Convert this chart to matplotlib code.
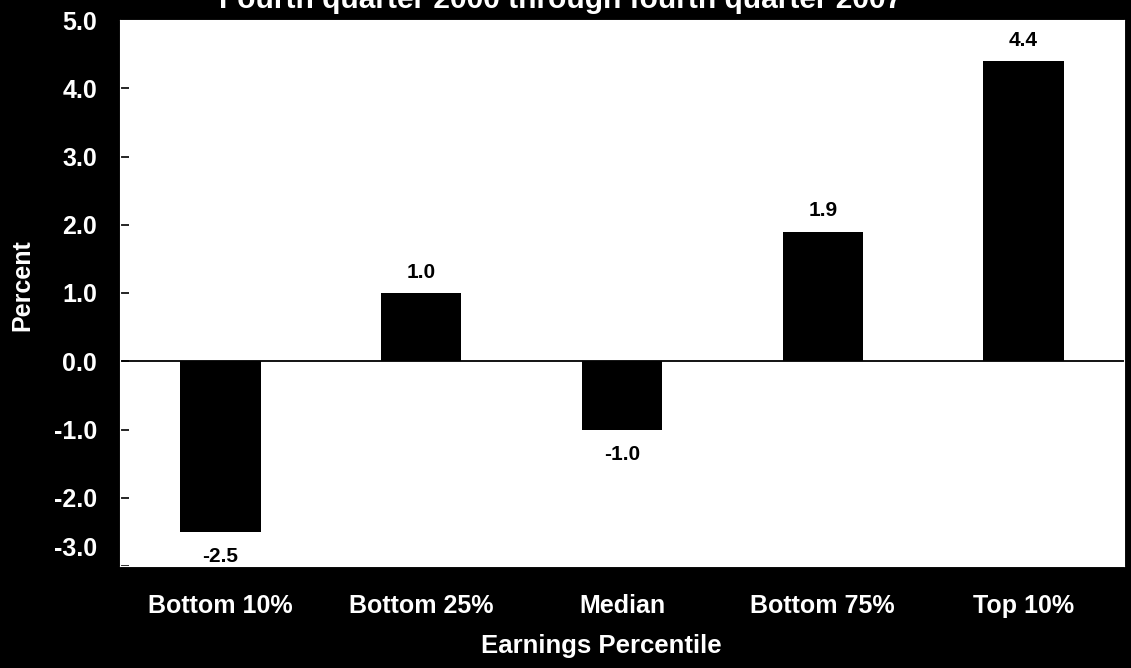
import matplotlib
matplotlib.use("Agg")
import matplotlib.pyplot as plt
import matplotlib.transforms as mtransforms

categories = ["Bottom 10%", "Bottom 25%", "Median", "Bottom 75%", "Top 10%"]
values = [-2.5, 1.0, -1.0, 1.9, 4.4]
yticks = [5.0, 4.0, 3.0, 2.0, 1.0, 0.0, -1.0, -2.0, -3.0]
title = "Fourth quarter 2000 through fourth quarter 2007"

plt.rcParams["font.family"] = ["Liberation Sans", "DejaVu Sans"]
plt.rcParams["font.weight"] = "bold"

W, H = 1131, 668
fig = plt.figure(figsize=(W / 100, H / 100), dpi=100, facecolor="black")
left, right, top, bottom = 120, 1124, 20, 566
ax = fig.add_axes([left / W, 1 - bottom / H, (right - left) / W, (bottom - top) / H])
ax.set_facecolor("white")

x = list(range(len(categories)))
ax.bar(x, values, width=0.40, color="black", zorder=2)
ax.axhline(0, color="black", linewidth=1.3, zorder=1)

for xi, v in zip(x, values):
    if v >= 0:
        ax.annotate(f"{v:.1f}", (xi, v), xytext=(0, 8), textcoords="offset points",
                    ha="center", va="bottom", fontsize=15, fontweight="bold", color="black")
    else:
        ax.annotate(f"{v:.1f}", (xi, v), xytext=(0, -11), textcoords="offset points",
                    ha="center", va="top", fontsize=15, fontweight="bold", color="black")

ax.set_xlim(-0.5, len(categories) - 0.5)
ax.set_ylim(-3.0, 5.0)
ax.set_yticks(yticks)
ax.set_yticklabels([f"{t:.1f}" for t in yticks], fontsize=18, fontweight="bold", color="white")
ax.set_xticks(x)
ax.set_xticklabels(categories, fontsize=18, fontweight="bold", color="white")
ax.tick_params(axis="x", length=0, pad=20)
ax.tick_params(axis="y", direction="in", length=6.5, width=1.2, color="black", pad=16.5)
for s in ax.spines.values():
    s.set_color("white")

# the lowest tick label sits a little above the axis floor
lowest = ax.get_yticklabels()[-1]
lowest.set_transform(lowest.get_transform() +
                     mtransforms.ScaledTranslation(0, 20 / 100, fig.dpi_scale_trans))

ax.set_ylabel("Percent", fontsize=18, fontweight="bold", color="white",
              va="center", rotation_mode="anchor")
ax.yaxis.set_label_coords((22 - left) / (right - left), (bottom - 285) / (bottom - top))
ax.set_xlabel("Earnings Percentile", fontsize=18.5, fontweight="bold", color="white")
ax.xaxis.set_label_coords((601 - left) / (right - left), (bottom - 634) / (bottom - top))

fig.text(902 / W, 1 - 8 / H, title, ha="right", va="baseline",
         fontsize=21.5, fontweight="bold", color="white")

fig.savefig("out.png", dpi=100, facecolor="black")
